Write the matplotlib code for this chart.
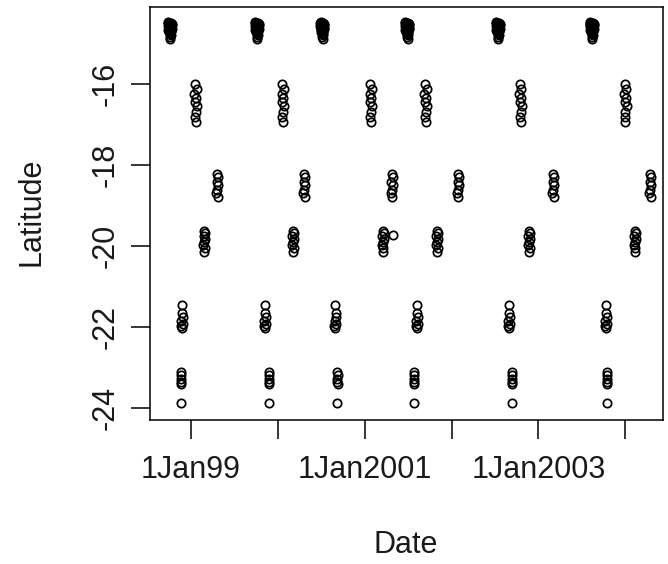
import matplotlib
matplotlib.use("Agg")
import matplotlib.pyplot as plt
import numpy as np
import pandas as pd

plt.rcParams['font.family'] = ['Liberation Sans', 'DejaVu Sans']

# survey dates, one per cruise, for each latitude band
a_dates = ['1998-10-05', '1999-10-06', '2000-07-06', '2001-06-28', '2002-07-15', '2003-08-14']
b_dates = ['1999-01-19', '2000-01-20', '2001-01-24', '2001-09-12', '2002-10-16', '2003-12-31']
c_dates = ['1999-04-21', '2000-04-21', '2001-04-25', '2002-01-28', '2003-03-04', '2004-04-15']
d_dates = ['1999-02-26', '2000-03-06', '2001-03-18', '2001-11-01', '2002-11-23', '2004-02-11']
e_dates = ['1998-11-25', '1999-11-09', '2000-08-30', '2001-08-09', '2002-08-31', '2003-10-12']
f_dates = ['1998-11-21', '1999-11-26', '2000-09-08', '2001-07-28', '2002-09-12', '2003-10-17']

# station latitudes and day offset within a cruise
a_lats = [-14.48, -14.49, -14.50, -14.51, -14.52, -14.53, -14.54, -14.55, -14.56, -14.57,
          -14.58, -14.59, -14.60, -14.61, -14.62, -14.63, -14.64, -14.65, -14.66, -14.67,
          -14.68, -14.70, -14.72, -14.74, -14.77, -14.80, -14.84, -14.89]
a_days = [-7, 4, -9, 7, 2, -3, 8, -6, 0, 5, -8, 3, -2, 6, -5, 1, 7, -4, 4, -7,
          0, 5, -4, 2, -1, 3, 0, 2]
b_lats = [-16.0, -16.12, -16.25, -16.35, -16.45, -16.55, -16.7, -16.82, -16.95]
b_days = [0, 6, -3, 5, 0, 7, 2, 0, 2]
c_lats = [-18.22, -18.3, -18.42, -18.5, -18.62, -18.7, -18.8]
c_days = [0, 4, -2, 4, 0, -3, 2]
d_lats = [-19.62, -19.68, -19.75, -19.82, -19.9, -19.98, -20.05, -20.15]
d_days = [0, 4, -3, 5, 0, -4, 2, 0]
e_lats = [-21.45, -21.65, -21.75, -21.85, -21.92, -21.97, -22.02]
e_days = [0, 1, 4, -3, 3, -4, 0]
f_lats = [-23.12, -23.2, -23.28, -23.35, -23.42, -23.88]
f_days = [0, 1, -1, 0, 1, 0]

extra_dates = ['2001-05-01']
extra_lats = [-19.73]

x_ticks = ['1999-01-01', '2000-01-01', '2001-01-01', '2002-01-01', '2003-01-01', '2004-01-01']
x_labels = ['1Jan99', '', '1Jan2001', '', '1Jan2003', '']
y_ticks = [-24, -22, -20, -18, -16]

rows = [(a_dates, a_days, a_lats), (b_dates, b_days, b_lats), (c_dates, c_days, c_lats),
        (d_dates, d_days, d_lats), (e_dates, e_days, e_lats), (f_dates, f_days, f_lats)]

xs = []
ys = []
for dates, days, lats in rows:
    for d in dates:
        base = pd.Timestamp(d)
        for dd, la in zip(days, lats):
            xs.append(base + pd.Timedelta(days=dd))
            ys.append(la)
for d, la in zip(extra_dates, extra_lats):
    xs.append(pd.Timestamp(d))
    ys.append(la)

fig = plt.figure(figsize=(6.68, 5.64), dpi=100)
ax = fig.add_axes([150/668, 1-420/564, 513/668, 413/564])

ax.plot(xs, ys, linestyle='None', marker='o', markersize=6.0,
        markerfacecolor='none', markeredgecolor='black', markeredgewidth=1.25)

ax.set_xlim(pd.Timestamp('1998-07-13'), pd.Timestamp('2004-06-08'))
ax.set_ylim(-24.30, -14.10)

ax.set_xticks([pd.Timestamp(t) for t in x_ticks])
ax.set_xticklabels(x_labels)
ax.set_yticks(y_ticks)
ax.set_yticklabels([str(v) for v in y_ticks], rotation=90, va='center')

ax.tick_params(axis='both', length=14, width=1.1, labelsize=22, color='black',
               labelcolor='#1a1a1a')
ax.tick_params(axis='x', pad=11)
ax.tick_params(axis='y', pad=7)
for s in ax.spines.values():
    s.set_linewidth(1.1)

fig.text(406/668, 1-545/564, 'Date', ha='center', va='center', fontsize=22, color='#1a1a1a')
fig.text(32/668, 1-212/564, 'Latitude', ha='center', va='center', fontsize=22,
         rotation=90, color='#1a1a1a')

fig.savefig('out.png', dpi=100)
